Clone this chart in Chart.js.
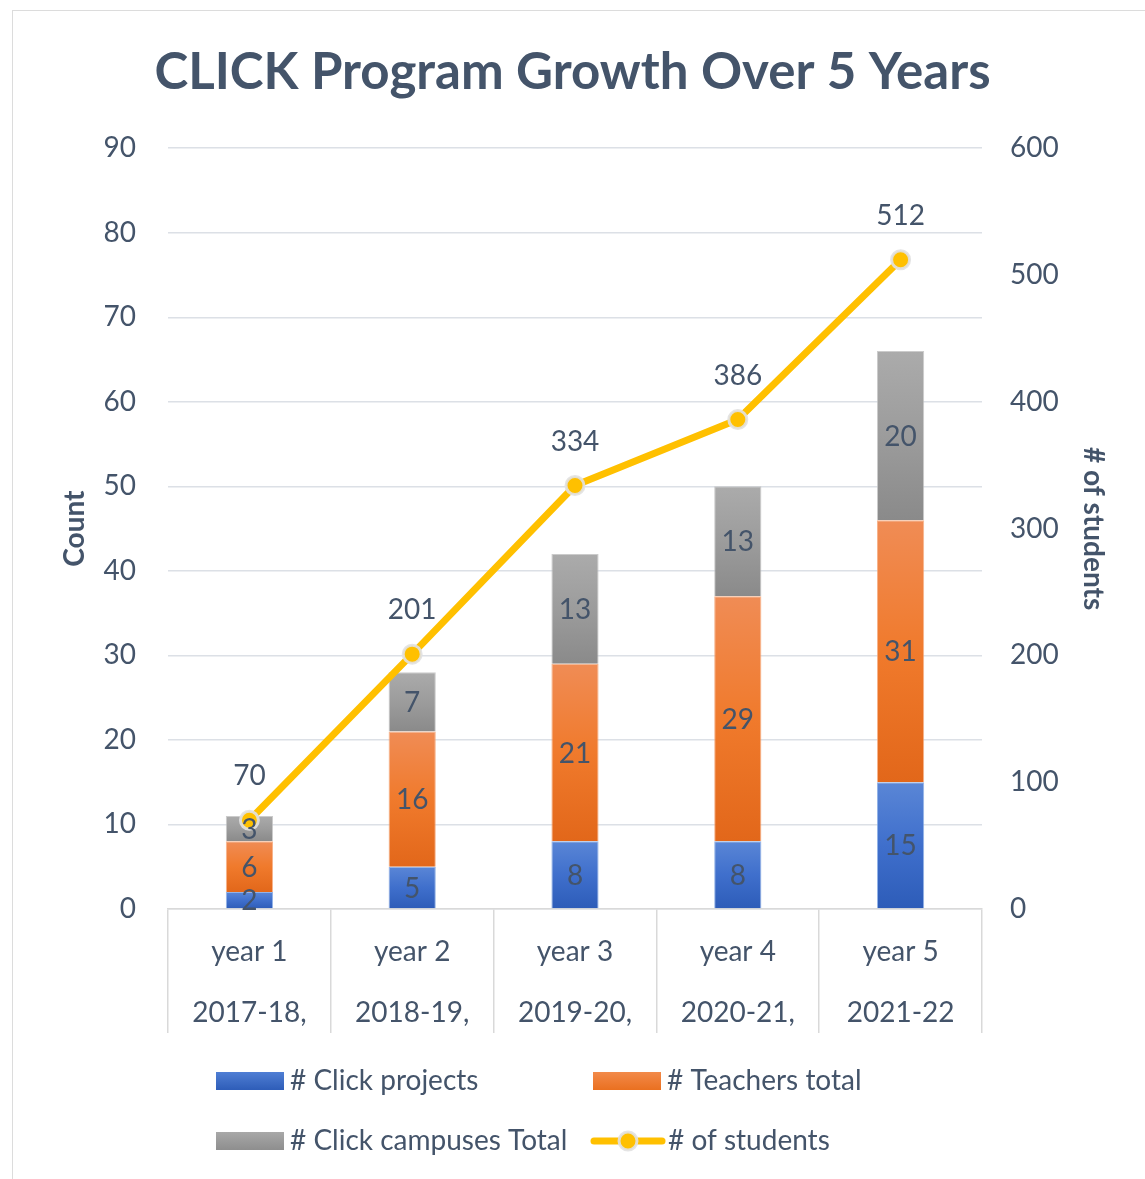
<!DOCTYPE html>
<html>
<head>
<meta charset="utf-8">
<script src="https://cdn.jsdelivr.net/npm/chart.js@4/dist/chart.umd.min.js"></script>
<style>
  html, body { margin: 0; background: #fff; overflow: hidden; }
  #wrap { position: relative; width: 1145px; height: 1179px; overflow: hidden; }
  #frame { position: absolute; left: 12px; top: 10px; width: 1150px; height: 1180px; border: 1.5px solid #DCDCDC; box-sizing: border-box; pointer-events: none; }
</style>
</head>
<body>
<div id="wrap">
  <div id="frame"></div>
  <canvas id="myChart"></canvas>
</div>
<script>
// chart data
const yearLabels = ['year 1', 'year 2', 'year 3', 'year 4', 'year 5'];
const periodLabels = ['2017-18,', '2018-19,', '2019-20,', '2020-21,', '2021-22'];
const clickProjects = [2, 5, 8, 8, 15];
const teachersTotal = [6, 16, 21, 29, 31];
const campusesTotal = [3, 7, 13, 13, 20];
const students = [70, 201, 334, 386, 512];
const countTicks = [0, 90, 10];    // min, max, step
const studentTicks = [0, 600, 100];

const textColor = '#44546A';
const font = 'Lato';
const textSize = 28;

// gradient fill for each bar segment, lighter at the top
function barFill(topColor, midColor, bottomColor) {
    return function(context) {
        const chart = context.chart;
        if (!chart.chartArea || context.type !== 'data') return midColor;
        let base = 0;
        for (let d = 0; d < context.datasetIndex; d++) {
            base += chart.data.datasets[d].data[context.dataIndex];
        }
        const y = chart.scales.y;
        const yTop = y.getPixelForValue(base + context.raw);
        const yBottom = y.getPixelForValue(base);
        if (!isFinite(yTop) || !isFinite(yBottom) || yTop === yBottom) return midColor;
        const g = chart.ctx.createLinearGradient(0, yTop, 0, yBottom);
        g.addColorStop(0, topColor);
        g.addColorStop(0.5, midColor);
        g.addColorStop(1, bottomColor);
        return g;
    };
}

// value labels on bars and above the line points
const valueLabels = {
    id: 'valueLabels',
    afterDatasetsDraw(chart) {
        const ctx = chart.ctx;
        ctx.save();
        ctx.font = textSize + 'px ' + font;
        ctx.fillStyle = textColor;
        ctx.textAlign = 'center';
        ctx.textBaseline = 'middle';
        chart.data.datasets.forEach((ds, di) => {
            const meta = chart.getDatasetMeta(di);
            meta.data.forEach((el, i) => {
                if (ds.type === 'line') {
                    ctx.fillText(ds.data[i], el.x, el.y - 44);
                } else {
                    ctx.fillText(ds.data[i], el.x, (el.y + el.base) / 2 + 1);
                }
            });
        });
        ctx.restore();
    }
};

// legend laid out in two columns like the original
const gridLegend = {
    id: 'gridLegend',
    afterDraw(chart) {
        const ctx = chart.ctx;
        const slots = [[216, 1081], [593, 1081], [216, 1141], [590, 1141]];
        ctx.save();
        ctx.font = textSize + 'px ' + font;
        ctx.textBaseline = 'middle';
        chart.data.datasets.forEach((ds, k) => {
            const [x, y] = slots[k];
            if (ds.type === 'line') {
                ctx.strokeStyle = ds.borderColor;
                ctx.lineWidth = 7;
                ctx.lineCap = 'round';
                ctx.beginPath();
                ctx.moveTo(x + 4, y);
                ctx.lineTo(x + 72, y);
                ctx.stroke();
                ctx.beginPath();
                ctx.arc(x + 38, y, 9, 0, Math.PI * 2);
                ctx.fillStyle = ds.pointBackgroundColor;
                ctx.fill();
                ctx.lineWidth = 3;
                ctx.strokeStyle = ds.pointBorderColor;
                ctx.stroke();
                ctx.fillStyle = textColor;
                ctx.fillText(ds.label, x + 78, y);
            } else {
                const g = ctx.createLinearGradient(0, y - 9, 0, y + 9);
                g.addColorStop(0, ds.legendColors[0]);
                g.addColorStop(1, ds.legendColors[1]);
                ctx.fillStyle = g;
                ctx.fillRect(x, y - 9, 68, 18);
                ctx.fillStyle = textColor;
                ctx.fillText(ds.label, x + 74, y);
            }
        });
        ctx.restore();
    }
};

const ctx = document.getElementById('myChart').getContext('2d');
const myChart = new Chart(ctx, {
    data: {
        labels: yearLabels.map((y, i) => [y, periodLabels[i]]),
        datasets: [{
            type: 'bar',
            label: '# Click projects',
            data: clickProjects,
            backgroundColor: barFill('#5A86D6', '#3F6FCC', '#2D5CB8'),
            borderColor: 'rgba(120,160,225,0.8)',
            borderWidth: 1,
            legendColors: ['#4F7ED4', '#2E5DB8'],
            order: 1
        }, {
            type: 'bar',
            label: '# Teachers total',
            data: teachersTotal,
            backgroundColor: barFill('#F08C55', '#F07A2C', '#E2671A'),
            borderColor: 'rgba(245,160,110,0.8)',
            borderWidth: 1,
            legendColors: ['#F28A4A', '#EA7020'],
            order: 1
        }, {
            type: 'bar',
            label: '# Click campuses Total',
            data: campusesTotal,
            backgroundColor: barFill('#ABABAB', '#9C9C9C', '#8A8A8A'),
            borderColor: 'rgba(190,190,190,0.8)',
            borderWidth: 1,
            legendColors: ['#A8A8A8', '#8E8E8E'],
            order: 1
        }, {
            type: 'line',
            label: '# of students',
            data: students,
            yAxisID: 'y1',
            borderColor: '#FFC000',
            borderWidth: 7,
            pointRadius: 9,
            pointBorderWidth: 3,
            pointBackgroundColor: '#FFC000',
            pointBorderColor: 'rgba(225,225,225,0.9)',
            tension: 0,
            order: 0
        }]
    },
    options: {
        responsive: true,
        maintainAspectRatio: false,
        animation: false,
        layout: { padding: { left: 0, right: 0, top: 0, bottom: 146 } },
        datasets: {
            bar: { categoryPercentage: 1, barPercentage: 0.29 }
        },
        plugins: {
            legend: { display: false },
            tooltip: { enabled: false },
            title: {
                display: true,
                text: 'CLICK Program Growth Over 5 Years',
                color: textColor,
                font: { family: font, size: 51, weight: 'bold', lineHeight: 1.2 },
                padding: { top: 42, bottom: 45 }
            }
        },
        scales: {
            x: {
                stacked: true,
                offset: true,
                grid: { offset: true, drawOnChartArea: false, drawTicks: true, tickLength: 124, color: '#D9D9D9', lineWidth: 1.5 },
                border: { display: true, color: '#D9D9D9', width: 1.5 },
                ticks: {
                    color: textColor,
                    padding: -112,
                    maxRotation: 0,
                    autoSkip: false,
                    font: { family: font, size: textSize, lineHeight: 61 / textSize }
                },
                afterFit: s => { s.height = 124; }
            },
            y: {
                stacked: true,
                position: 'left',
                min: countTicks[0],
                max: countTicks[1],
                ticks: { stepSize: countTicks[2], color: textColor, padding: 32, font: { family: font, size: textSize } },
                grid: { color: '#DCE0E6', lineWidth: 1.5, drawTicks: false },
                border: { display: false },
                title: {
                    display: true,
                    text: 'Count',
                    color: textColor,
                    font: { family: font, size: 28, weight: 'bold', lineHeight: 1.2 },
                    padding: { top: 58, bottom: 0 }
                },
                afterFit: s => { s.width = 168; }
            },
            y1: {
                position: 'right',
                min: studentTicks[0],
                max: studentTicks[1],
                ticks: { stepSize: studentTicks[2], color: textColor, padding: 28, font: { family: font, size: textSize } },
                grid: { drawOnChartArea: false, drawTicks: false },
                border: { display: false },
                title: {
                    display: true,
                    text: '# of students',
                    color: textColor,
                    font: { family: font, size: 28, weight: 'bold', lineHeight: 1.2 },
                    padding: { top: 35, bottom: 0 }
                },
                afterFit: s => { s.width = 163; }
            }
        }
    },
    plugins: [valueLabels, gridLegend]
});
</script>
</body>
</html>
